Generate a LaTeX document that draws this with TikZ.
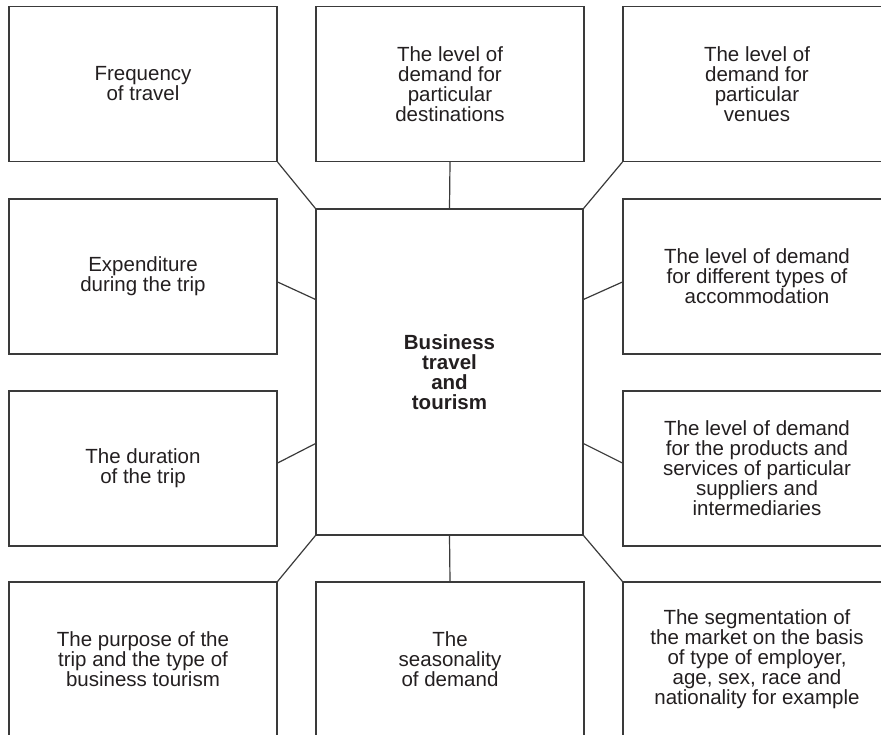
\documentclass[tikz,border=0pt]{standalone}
\usepackage{fontspec}
\setmainfont{Liberation Sans}
\definecolor{inkline}{HTML}{3A3A3A}
\definecolor{inktext}{HTML}{231F20}
\begin{document}
\begin{tikzpicture}[x=1pt,y=-1pt,
    factor/.style={draw=inkline,line width=1.2pt,minimum width=268pt,minimum height=155pt,inner sep=0pt,align=center,text=inktext,font=\fontsize{20.5}{20}\selectfont},
    hub/.style={factor,minimum width=267pt,minimum height=326pt,font=\fontsize{20.5}{20}\selectfont\bfseries},
    link/.style={draw=inkline,line width=1.2pt}]
        \useasboundingbox (0,0) rectangle (881,734);
        \clip (0,0) rectangle (881,734);
        \node[hub] (core) at (449.5,372) {Business\\travel\\and\\tourism};
        \node[factor] (freq) at (143,84) {Frequency\\of travel};
        \node[factor] (dest) at (450,84) {The level of\\demand for\\particular\\destinations};
        \node[factor] (venue) at (757,84) {The level of\\demand for\\particular\\venues};
        \node[factor] (spend) at (143,276.5) {Expenditure\\during the trip};
        \node[factor] (accom) at (757,276.5) {The level of demand\\for different types of\\accommodation};
        \node[factor] (dur) at (143,468.5) {The duration\\of the trip};
        \node[factor] (supp) at (757,468.5) {The level of demand\\for the products and\\services of particular\\suppliers and\\intermediaries};
        \node[factor] (purp) at (143,659.5) {The purpose of the\\trip and the type of\\business tourism};
        \node[factor] (seas) at (450,659.5) {The\\seasonality\\of demand};
        \node[factor] (segm) at (757,659.5) {The segmentation of\\the market on the basis\\of type of employer,\\age, sex, race and\\nationality for example};
        \draw[link] (freq.south east) -- (core.north west);
        \draw[link] (dest.south) -- (core.north);
        \draw[link] (venue.south west) -- (core.north east);
        \draw[link] ([yshift=-5.5pt]spend.east) -- ([yshift=-91pt]core.north west);
        \draw[link] ([yshift=-5.5pt]accom.west) -- ([yshift=-91pt]core.north east);
        \draw[link] ([yshift=5.5pt]dur.east) -- ([yshift=92pt]core.south west);
        \draw[link] ([yshift=5.5pt]supp.west) -- ([yshift=92pt]core.south east);
        \draw[link] (purp.north east) -- (core.south west);
        \draw[link] (seas.north) -- (core.south);
        \draw[link] (segm.north west) -- (core.south east);
      \end{tikzpicture}
\end{document}
